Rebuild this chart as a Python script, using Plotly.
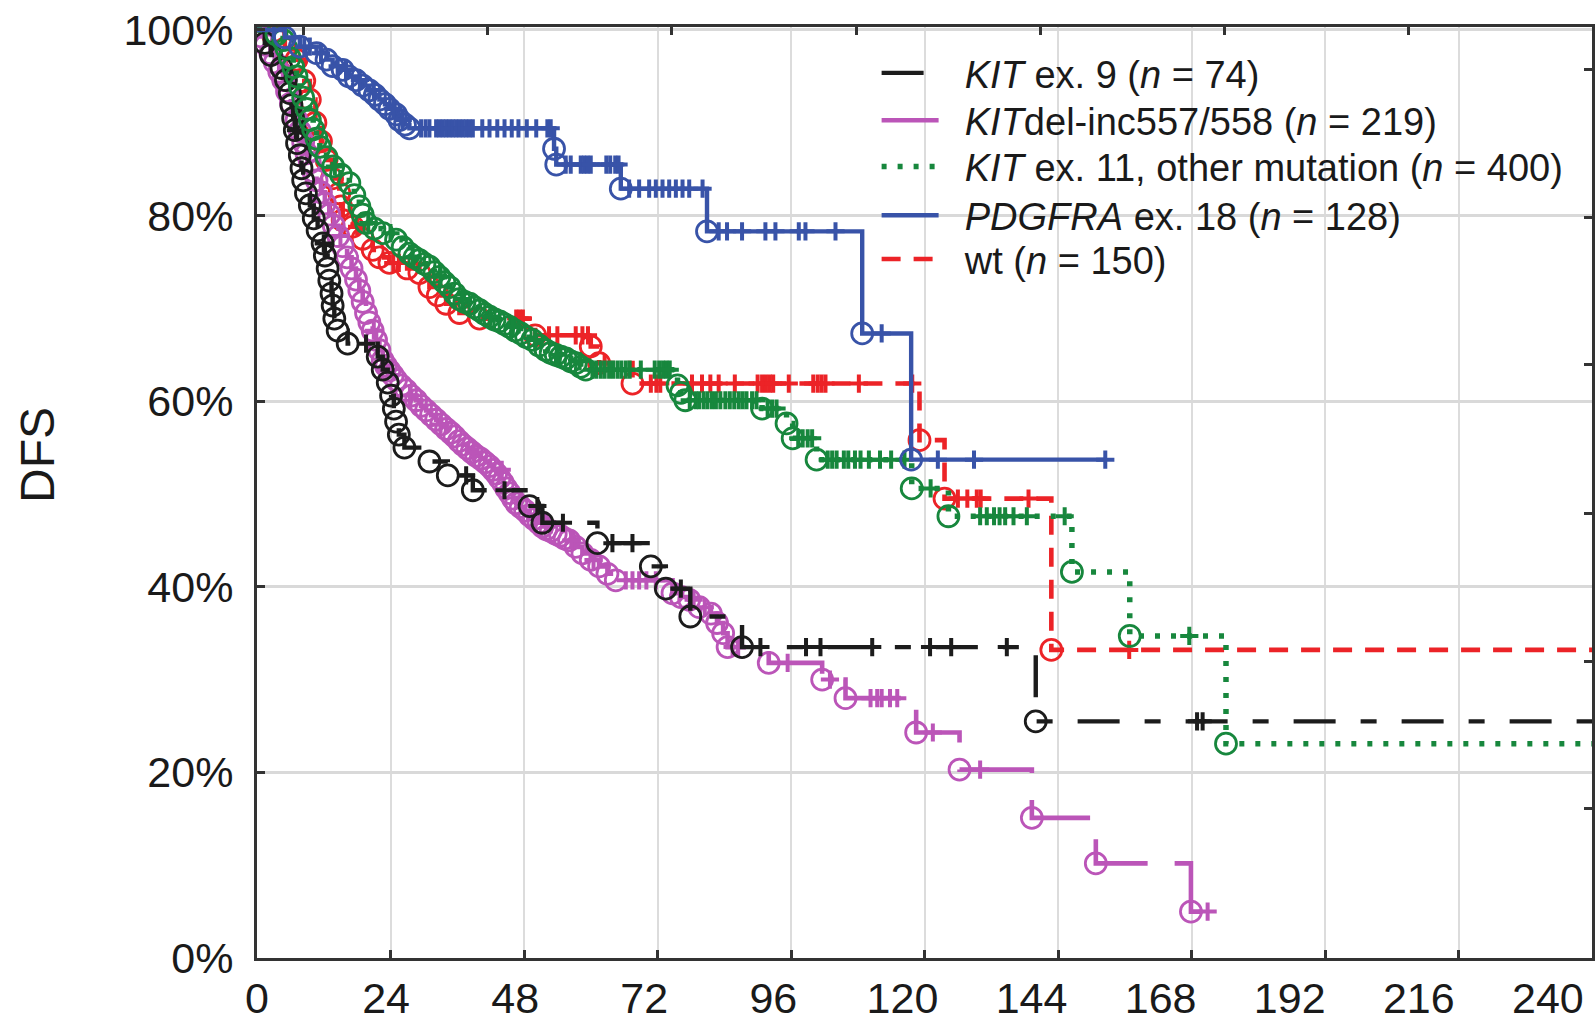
import plotly.graph_objects as go

# ---------------- data (months, DFS in %) ----------------
# KIT ex. 9 (n = 74)
black_t = [0, 1.4, 2.5, 4.4, 5.2, 5.9, 6.2, 6.5, 6.8, 7.2, 7.7, 8.0, 8.3, 8.8, 9.5, 10.2, 10.9, 11.8, 12.2, 12.7,
           13.0, 13.4, 13.6, 13.9, 14.5, 16.3, 21.7, 22.6, 23.5, 24.1, 24.6, 25.0, 25.5, 26.5, 31.0, 34.3, 38.8,
           49.0, 51.3, 61.2, 70.8, 73.5, 77.9, 87.2, 140.0, 240]
black_s = [100, 98.6, 97.3, 95.9, 94.6, 93.2, 91.9, 90.5, 89.2, 87.8, 86.5, 85.1, 83.8, 82.4, 81.1, 79.7, 78.4, 77.0,
           75.7, 74.3, 73.0, 71.6, 70.3, 68.9, 67.6, 66.2, 64.8, 63.4, 62.0, 60.6, 59.2, 57.8, 56.4, 55.0, 53.5, 52.0,
           50.4, 48.7, 46.9, 44.7, 42.2, 39.8, 36.8, 33.5, 25.5, 25.5]
black_ct = [7.0, 12.0, 19.6, 37.6, 44.5, 50.4, 55.0, 63.9, 67.5, 76.2, 90.5, 98.7, 101.3, 110.6, 121.0, 124.8, 134.8,
            169.0, 170.0]
black_cs = [89.2, 77.0, 66.2, 52.0, 50.4, 48.7, 46.9, 44.7, 44.7, 39.8, 33.5, 33.5, 33.5, 33.5, 33.5, 33.5, 33.5,
            25.5, 25.5]

# KITdel-inc557/558 (n = 219)
mag_t = [0, 0.8, 1.6, 2.4, 3.2, 4.0, 4.7, 5.4, 6.1, 7.1, 7.7, 8.3, 8.9, 9.5, 10.1, 10.7, 11.5, 12.2, 13.0, 13.8,
         14.6, 15.4, 16.2, 17.0, 17.8, 18.4, 19.0, 19.6, 20.2, 20.8, 21.4, 22.0, 22.6, 23.2, 23.8, 24.4, 25.0, 25.9,
         26.8, 27.7, 28.6, 29.5, 30.4, 31.3, 32.2, 33.1, 34.0, 34.8, 35.5, 36.3, 37.0, 37.8, 38.6, 39.4, 40.2, 41.0,
         41.8, 42.4, 43.0, 43.6, 44.2, 44.8, 45.4, 46.0, 46.6, 47.4, 48.2, 49.0, 49.8, 50.6, 51.3, 52.0, 52.8, 53.7,
         54.5, 55.3, 56.1, 57.3, 58.5, 60.0, 61.5, 63.0, 64.5, 74.7, 76.2, 77.7, 79.5, 81.6, 82.7, 83.8, 84.6, 92.0,
         101.6, 105.8, 118.5, 126.3, 139.3, 150.8, 167.9, 170.9]
mag_s = [100, 99.3, 98.4, 97.5, 96.5, 95.5, 94.6, 93.4, 92.1, 90.3, 89.1, 87.9, 86.7, 85.7, 84.8, 83.8, 82.5, 81.3,
         80.1, 78.9, 77.8, 76.7, 75.5, 74.3, 73.1, 71.9, 70.7, 69.5, 68.5, 67.6, 66.6, 65.5, 64.4, 63.8, 63.3, 62.8,
         62.3, 61.7, 61.2, 60.6, 60.1, 59.5, 59.0, 58.5, 58.0, 57.5, 57.0, 56.6, 56.2, 55.7, 55.3, 54.9, 54.5, 54.1,
         53.8, 53.4, 53.0, 52.6, 52.2, 51.7, 51.2, 50.6, 50.1, 49.5, 49.0, 48.6, 48.2, 47.7, 47.3, 46.9, 46.5, 46.2,
         46.0, 45.7, 45.5, 45.2, 45.0, 44.3, 43.6, 42.9, 42.2, 41.4, 40.7, 39.3, 38.9, 38.6, 37.8, 37.1, 36.1, 35.0,
         33.5, 31.8, 30.0, 28.0, 24.3, 20.3, 15.1, 10.2, 5.0, 5.0]
mag_ct = [9.0, 15.0, 21.0, 27.5, 33.0, 39.0, 44.0, 50.0, 56.5, 60.5, 66.3, 67.5, 68.7, 70.0, 71.7, 78.5, 80.5, 85.5,
          86.5, 95.4, 103.0, 110.3, 111.5, 112.3, 113.8, 115.1, 121.5, 130.0, 170.9]
mag_cs = [86.7, 77.8, 67.6, 60.6, 57.5, 54.5, 52.6, 47.3, 45.0, 42.9, 40.7, 40.7, 40.7, 40.7, 40.7, 38.6, 37.8, 33.5,
          33.5, 31.8, 30.0, 28.0, 28.0, 28.0, 28.0, 28.0, 24.3, 20.3, 5.0]

# KIT ex. 11, other mutation (n = 400)
grn_t = [0, 3.5, 4.7, 5.3, 5.9, 6.5, 7.1, 7.7, 8.3, 8.9, 9.5, 10.1, 10.7, 11.3, 12.5, 13.7, 15.1, 16.6, 17.5, 18.4,
         19.0, 19.6, 21.1, 22.6, 25.0, 26.2, 27.4, 28.3, 29.2, 30.1, 31.0, 31.9, 32.8, 33.7, 34.6, 35.5, 36.4, 37.3,
         38.2, 39.1, 40.0, 40.9, 41.8, 42.7, 43.6, 44.5, 45.4, 46.4, 47.4, 48.4, 49.5, 50.7, 51.9, 52.8, 53.7, 54.6,
         55.5, 56.4, 57.3, 58.2, 59.1, 75.6, 76.2, 77.0, 90.8, 95.2, 96.3, 100.6, 117.7, 124.3, 146.5, 156.9, 174.2,
         240]
grn_s = [100, 99.5, 98.9, 98.0, 97.0, 96.0, 95.0, 93.9, 92.7, 91.5, 90.3, 89.3, 88.3, 87.4, 86.3, 85.3, 84.4, 83.5,
         82.2, 81.0, 80.1, 79.2, 78.6, 78.1, 77.4, 76.6, 75.9, 75.5, 75.2, 74.8, 74.5, 73.9, 73.4, 72.8, 72.3, 71.6,
         71.0, 70.7, 70.5, 70.1, 69.8, 69.4, 69.1, 68.8, 68.6, 68.3, 68.0, 67.6, 67.3, 66.9, 66.6, 66.0, 65.5, 65.2,
         65.0, 64.8, 64.6, 64.3, 64.1, 63.7, 63.4, 61.7, 60.9, 60.1, 59.2, 57.6, 56.0, 53.7, 50.6, 47.6, 41.6, 34.7,
         23.1, 23.1]
grn_ct = [14.0, 20.0, 24.0, 28.0, 33.0, 37.0, 42.0, 46.0, 50.0, 54.0, 58.0,
          60.3, 61.0, 61.8, 62.5, 63.3, 64.0, 64.8, 65.5, 66.3, 67.0, 69.0, 71.5, 72.3, 73.0, 73.6, 74.2,
          77.8, 78.9, 79.5, 80.3, 81.0, 81.8, 82.5, 83.3, 84.2, 85.0, 85.8, 86.6, 87.3, 88.0, 89.0, 89.8,
          91.8, 92.6, 93.4, 97.3, 98.1, 99.0, 99.8,
          102.6, 103.4, 104.2, 105.5, 106.3, 107.5, 108.5, 110.0, 112.0, 114.0, 116.4, 121.1,
          130.0, 131.2, 132.5, 133.5, 134.5, 136.0, 138.4, 145.2, 167.6]
grn_cs = [85.3, 79.2, 78.1, 75.5, 73.4, 71.0, 69.1, 68.0, 66.6, 65.0, 64.3,
          63.4, 63.4, 63.4, 63.4, 63.4, 63.4, 63.4, 63.4, 63.4, 63.4, 63.4, 63.4, 63.4, 63.4, 63.4, 63.4,
          60.1, 60.1, 60.1, 60.1, 60.1, 60.1, 60.1, 60.1, 60.1, 60.1, 60.1, 60.1, 60.1, 60.1, 60.1, 60.1,
          59.2, 59.2, 59.2, 56.0, 56.0, 56.0, 56.0,
          53.7, 53.7, 53.7, 53.7, 53.7, 53.7, 53.7, 53.7, 53.7, 53.7, 53.7, 50.6,
          47.6, 47.6, 47.6, 47.6, 47.6, 47.6, 47.6, 47.6, 34.7]

# PDGFRA ex. 18 (n = 128)
blu_t = [0, 5.0, 7.7, 10.7, 12.5, 13.6, 15.4, 16.5, 17.8, 19.0, 20.2, 21.2, 22.0, 23.0, 23.8, 25.0, 25.6, 26.6, 27.4,
         53.4, 53.8, 65.4, 80.9, 108.8, 117.6, 152.5]
blu_s = [100, 99.2, 98.2, 97.5, 96.8, 96.1, 95.7, 95.0, 94.6, 94.0, 93.5, 93.0, 92.5, 92.0, 91.5, 90.9, 90.3, 89.8,
         89.4, 87.2, 85.5, 82.9, 78.3, 67.3, 53.7, 53.7]
blu_ct = [3.0, 8.5, 9.5, 11.5, 14.5, 16.0, 18.5, 21.0, 24.5, 26.2,
          29.5, 30.3, 31.0, 32.2, 32.8, 33.4, 34.0, 34.6, 35.2, 35.8, 36.4, 37.0, 37.6, 38.2, 38.8, 40.5, 41.8, 43.2,
          44.5, 45.8, 47.0, 48.5, 50.2, 52.2, 52.8,
          55.5, 56.4, 58.2, 58.8, 59.4, 60.0, 62.8, 63.5, 64.4, 65.0,
          66.9, 68.7, 70.5, 71.7, 72.9, 74.1, 75.3, 76.5, 77.7, 80.1,
          83.0, 84.5, 87.2, 91.4, 93.2, 97.4, 98.6, 104.0, 112.3, 122.4, 128.9, 152.5]
blu_cs = [100, 98.2, 98.2, 97.5, 96.1, 95.7, 94.6, 93.5, 91.5, 90.3,
          89.4, 89.4, 89.4, 89.4, 89.4, 89.4, 89.4, 89.4, 89.4, 89.4, 89.4, 89.4, 89.4, 89.4, 89.4, 89.4, 89.4, 89.4,
          89.4, 89.4, 89.4, 89.4, 89.4, 89.4, 89.4,
          85.5, 85.5, 85.5, 85.5, 85.5, 85.5, 85.5, 85.5, 85.5, 85.5,
          82.9, 82.9, 82.9, 82.9, 82.9, 82.9, 82.9, 82.9, 82.9, 82.9,
          78.3, 78.3, 78.3, 78.3, 78.3, 78.3, 78.3, 78.3, 67.3, 53.7, 53.7, 53.7]

# wt (n = 150)
red_t = [0, 3.0, 5.0, 7.1, 8.5, 9.5, 10.5, 11.5, 12.5, 13.5, 14.8, 15.1, 15.4, 17.2, 19.0, 20.8, 22.0, 23.8, 27.0,
         29.2, 31.0, 32.5, 34.0, 36.4, 40.0, 50.0, 60.0, 61.5, 67.5, 119.1, 123.6, 142.8, 240]
red_s = [100, 99.3, 98.0, 96.8, 94.5, 92.5, 90.0, 88.0, 86.0, 84.0, 82.4, 81.0, 79.5, 78.8, 77.5, 76.3, 75.5, 74.9,
         74.3, 73.8, 72.3, 71.4, 70.5, 69.5, 68.9, 67.1, 65.9, 64.1, 61.9, 55.8, 49.5, 33.2, 33.2]
red_ct = [18.0, 24.5, 25.5, 46.6, 47.2, 47.8, 52.5, 54.0, 57.3, 58.5, 59.5, 62.5,
          70.8, 71.8, 72.5, 78.2, 80.0, 81.5, 83.0, 85.9, 90.0, 90.8, 91.5, 92.2, 92.8, 95.6, 100.0, 100.8, 101.5,
          102.2, 108.2, 117.8, 126.0, 127.7, 129.4, 130.1, 138.7, 156.8]
red_cs = [78.8, 74.9, 74.9, 68.9, 68.9, 68.9, 67.1, 67.1, 67.1, 67.1, 67.1, 64.1,
          61.9, 61.9, 61.9, 61.9, 61.9, 61.9, 61.9, 61.9, 61.9, 61.9, 61.9, 61.9, 61.9, 61.9, 61.9, 61.9, 61.9,
          61.9, 61.9, 61.9, 49.5, 49.5, 49.5, 49.5, 49.5, 33.2]

x_ticks = [0, 24, 48, 72, 96, 120, 144, 168, 192, 216, 240]
x_labels = ["0", "24", "48", "72", "96", "120", "144", "168", "192", "216", "240"]
y_ticks = [0, 20, 40, 60, 80, 100]
y_labels = ["0%", "20%", "40%", "60%", "80%", "100%"]
top_ticks = [8.35, 41.5, 74.6, 107.7, 140.8, 173.9, 207.0]
right_ticks = [16.1, 32.0, 47.95, 63.9, 79.8, 95.7]

# ---------------- styles ----------------
FONT = "Liberation Sans, Arial, Helvetica, sans-serif"
PAD = "\u00a0\u00a0"
groups = [
    # name, t, s, ct, cs, color, dash, width, legend
    ("wt (<i>n</i> = 150)", red_t, red_s, red_ct, red_cs, "#ec2327", "19px,13px", 4.6, "legend5"),
    ("<i>KIT</i>del-inc557/558 (<i>n</i> = 219)", mag_t, mag_s, mag_ct, mag_cs, "#bb55b8", "76px,27px", 4.6, "legend2"),
    ("<i>KIT</i> ex. 9 (<i>n</i> = 74)", black_t, black_s, black_ct, black_cs, "#1c1c1c", "42px,25px,16px,25px", 4.4, "legend"),
    ("<i>KIT</i> ex. 11, other mutation (<i>n</i> = 400)", grn_t, grn_s, grn_ct, grn_cs, "#17873d", "5px,11px", 5.5, "legend3"),
    ("<i>PDGFRA</i> ex. 18 (<i>n</i> = 128)", blu_t, blu_s, blu_ct, blu_cs, "#3853a8", "solid", 4.4, "legend4"),
]

fig = go.Figure()
for name, t, s, ct, cs, color, dash, lw, lg in groups:
    fig.add_trace(go.Scatter(x=t, y=s, mode="lines", line=dict(color=color, width=lw, dash=dash, shape="hv"),
                             name=PAD + name, legend=lg, hoverinfo="skip"))
    fig.add_trace(go.Scatter(x=t[1:-1], y=s[1:-1], mode="markers", showlegend=False, hoverinfo="skip",
                             marker=dict(symbol="circle-open", size=21, color=color, line=dict(width=2.8, color=color))))
    fig.add_trace(go.Scatter(x=ct, y=cs, mode="markers", showlegend=False, hoverinfo="skip",
                             marker=dict(symbol="cross-thin-open", size=13, color=color, line=dict(width=4, color=color))))

# helper traces for the secondary (tick-only / label-only) axes
fig.add_trace(go.Scatter(x=[None], y=[None], xaxis="x2", yaxis="y2", showlegend=False, hoverinfo="skip"))
fig.add_trace(go.Scatter(x=[None], y=[None], xaxis="x3", yaxis="y", showlegend=False, hoverinfo="skip"))

W, H = 1595, 1024
ML, MR, MT, MB = 257, 0, 27, 66
PW, PH = W - ML - MR, H - MT - MB

def px_x(px):
    return (px - ML) / PW

def px_y(py):
    return (H - MB - py) / PH

legend_rows = {"legend": 73.2, "legend2": 120.5, "legend3": 166.8, "legend4": 215.6, "legend5": 259.3}
leg_layout = {}
for lg, py in legend_rows.items():
    leg_layout[lg] = dict(x=px_x(878), y=px_y(py), xanchor="left", yanchor="middle",
                          font=dict(family=FONT, size=38, color="#1a1a1a"), bgcolor="rgba(0,0,0,0)",
                          borderwidth=0, itemwidth=57, tracegroupgap=0)

tickfont = dict(family=FONT, size=43, color="#1a1a1a")
fig.update_layout(
    width=W, height=H, margin=dict(l=ML, r=MR, t=MT, b=MB, pad=0),
    paper_bgcolor="white", plot_bgcolor="white",
    font=dict(family=FONT, color="#1a1a1a"),
    showlegend=True,
    xaxis=dict(range=[0, 240], tickvals=x_ticks, showticklabels=False,
               ticks="inside", ticklen=8, tickwidth=2.5, tickcolor="#333",
               showline=True, linewidth=3, linecolor="#333", mirror=True,
               showgrid=True, gridcolor="#dcdcdc", gridwidth=1.5, zeroline=False),
    xaxis3=dict(overlaying="x", side="bottom", range=[0, 248.2], tickvals=x_ticks, ticktext=x_labels,
                ticks="", showline=False, showgrid=False, zeroline=False,
                tickfont=tickfont, ticklabelstandoff=11),
    yaxis=dict(range=[0, 100.32], tickvals=y_ticks, ticktext=y_labels,
               ticks="inside", ticklen=8, tickwidth=2.5, tickcolor="#333",
               showline=True, linewidth=3, linecolor="#333", mirror=True,
               showgrid=True, gridcolor="#d9d9d9", gridwidth=3, zeroline=False,
               tickfont=tickfont, ticklabelstandoff=12),
    xaxis2=dict(overlaying="x", side="top", range=[0, 240], tickvals=top_ticks, ticks="inside", ticklen=8,
                tickwidth=2.5, tickcolor="#333", showticklabels=False, showgrid=False, showline=False,
                zeroline=False),
    yaxis2=dict(overlaying="y", side="right", range=[0, 100.32], tickvals=right_ticks, ticks="inside", ticklen=8,
                tickwidth=2.5, tickcolor="#333", showticklabels=False, showgrid=False, showline=False,
                zeroline=False),
    annotations=[dict(text="DFS", x=px_x(36.5), y=px_y(455), xref="paper", yref="paper", showarrow=False,
                      textangle=-90, font=dict(family=FONT, size=48, color="#1a1a1a"),
                      xanchor="center", yanchor="middle")],
    **leg_layout,
)

fig.write_html("out.html")
